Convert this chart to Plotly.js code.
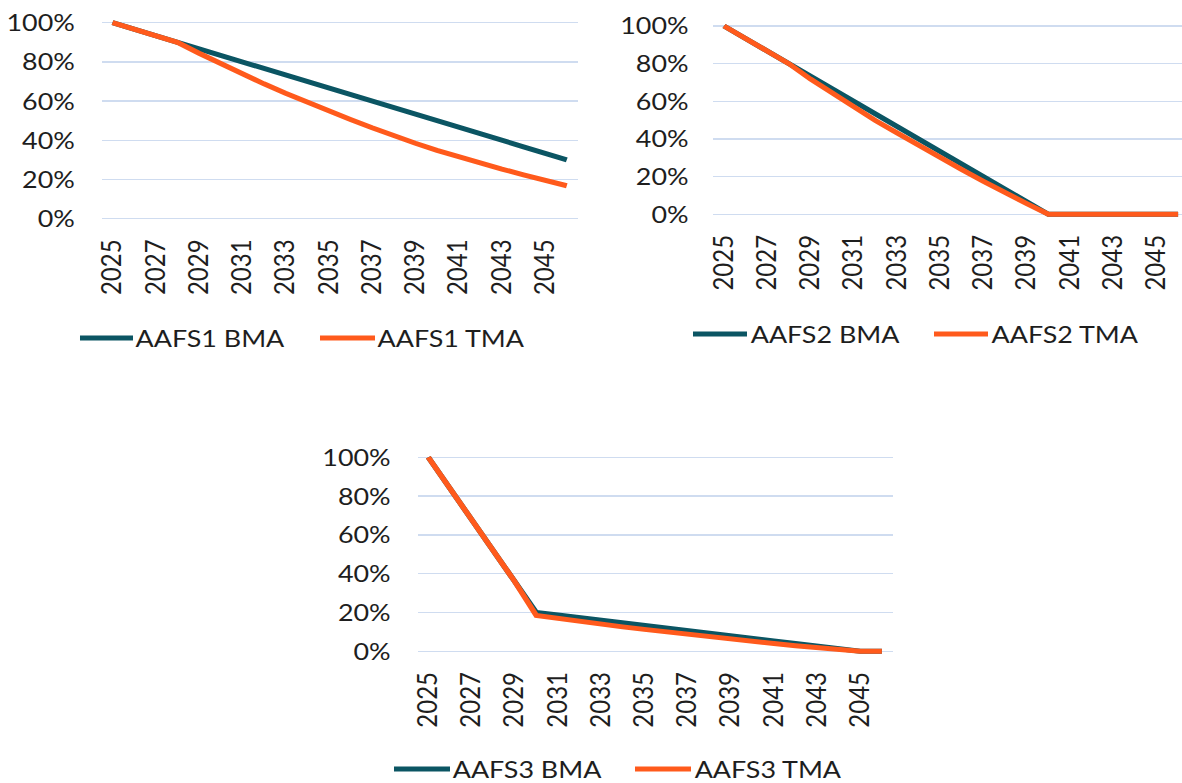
<!DOCTYPE html>
<html>
<head>
<meta charset="utf-8">
<script src="https://cdn.plot.ly/plotly-3.0.1.min.js"></script>
<style>
html,body{margin:0;padding:0;background:#fff;overflow:hidden;}
#wrap{width:1182px;height:783px;overflow:hidden;}
#chart{transform-origin:0 0;}
</style>
</head>
<body>
<div id="wrap"><div id="chart"></div></div>
<script>
// ---- data ----
const years = [2025,2026,2027,2028,2029,2030,2031,2032,2033,2034,2035,2036,2037,2038,2039,2040,2041,2042,2043,2044,2045,2046];
const xTickYears = [2025,2027,2029,2031,2033,2035,2037,2039,2041,2043,2045];
const yTickVals = [0,20,40,60,80,100];
const yTickText = ["0%","20%","40%","60%","80%","100%"];

const aafs1Bma = [100,96.7,93.3,90,86.7,83.3,80,76.7,73.3,70,66.7,63.3,60,56.7,53.3,50,46.7,43.3,40,36.7,33.3,30];
const aafs1Tma = [100,96.7,93.3,90,84.4,79.0,73.8,68.8,64.0,59.4,55.0,50.6,46.4,42.3,38.5,34.9,31.5,28.3,25.3,22.4,19.6,16.8];

const aafs2Bma = [100,93.3,86.7,80,73.3,66.7,60,53.3,46.7,40,33.3,26.7,20,13.3,6.7,0,0,0,0,0,0,0];
const aafs2Tma = [100,93.3,86.7,80,71.8,64.2,57,49.8,43.2,36.5,29.8,23.7,17.5,11.3,5.7,0,0,0,0,0,0,0];

const aafs3Bma = [100,84,68,52,36,20,18.7,17.3,16,14.7,13.3,12,10.7,9.3,8,6.7,5.3,4,2.7,1.3,0,0];
const aafs3Tma = [100,84,68,52,36,18.5,16.9,15.4,14.0,12.6,11.3,10.0,8.7,7.5,6.3,5.1,4.0,2.9,1.9,0.9,0,0];

const seriesNames = ["AAFS1 BMA","AAFS1 TMA","AAFS2 BMA","AAFS2 TMA","AAFS3 BMA","AAFS3 TMA"];

// ---- style ----
const OUT_W = 1182, H = 783;
const SX = 1.12;                       // reference is horizontally stretched
const W = Math.round(OUT_W / SX);      // inner drawing width
const TEAL = "#0b5563", ORANGE = "#ff5a1c";
const FONT = "Lato, 'Open Sans', sans-serif";
const FS = 24;
const TXT = "#1e1e1e";
const GRID = "#cfdcf0";

// positions are given in output pixels; fractions are scale-invariant
function px2fx(px){ return px / OUT_W; }
function px2fy(px){ return 1 - px / H; }

function trace(y, name, color, xa, ya){
  return {x: years, y: y, name: name, type: "scatter", mode: "lines",
    line: {color: color, width: 5}, xaxis: xa, yaxis: ya, showlegend: false, hoverinfo: "skip"};
}

const data = [
  trace(aafs1Bma, seriesNames[0], TEAL, "x", "y"),
  trace(aafs1Tma, seriesNames[1], ORANGE, "x", "y"),
  trace(aafs2Bma, seriesNames[2], TEAL, "x2", "y2"),
  trace(aafs2Tma, seriesNames[3], ORANGE, "x2", "y2"),
  trace(aafs3Bma, seriesNames[4], TEAL, "x3", "y3"),
  trace(aafs3Tma, seriesNames[5], ORANGE, "x3", "y3")
];

function xaxis(l, r, range, anchor){
  return {domain: [px2fx(l), px2fx(r)], range: range, anchor: anchor,
    tickmode: "array", tickvals: xTickYears, ticktext: xTickYears.map(String),
    tickangle: -90, showgrid: false, zeroline: false, showline: false, ticks: "",
    ticklabelstandoff: 12,
    tickfont: {family: FONT, size: FS, color: TXT}, fixedrange: true};
}
function yaxis(top, bottom, anchor, standoff){
  return {domain: [px2fy(bottom), px2fy(top)], range: [-1.5, 101.5], anchor: anchor,
    tickmode: "array", tickvals: yTickVals, ticktext: yTickText,
    showgrid: true, gridcolor: GRID, gridwidth: 1.4, zeroline: false, showline: false, ticks: "",
    ticklabelstandoff: standoff,
    tickfont: {family: FONT, size: FS, color: TXT}, fixedrange: true};
}

function yBox(p100, p0){ const s = (p0 - p100) / 100; return [p100 - 1.5*s, p0 + 1.5*s]; }
const b1 = yBox(22.7, 218.7), b2 = yBox(26, 214.3), b3 = yBox(457.3, 651.3);

const layout = {
  width: W, height: H, autosize: false,
  margin: {l: 0, r: 0, t: 0, b: 0, pad: 0},
  paper_bgcolor: "#fff", plot_bgcolor: "rgba(0,0,0,0)",
  font: {family: FONT, size: FS, color: TXT},
  xaxis: xaxis(101.7, 577.6, [2024.5, 2046.5], "y"),
  yaxis: yaxis(b1[0], b1[1], "x", 23),
  xaxis2: xaxis(713.2, 1182, [2024.5, 2046.18], "y2"),
  yaxis2: yaxis(b2[0], b2[1], "x2", 21),
  xaxis3: xaxis(417.5, 892.7, [2024.5, 2046.5], "y3"),
  yaxis3: yaxis(b3[0], b3[1], "x3", 23),
  shapes: [], annotations: []
};

// custom legends (line swatch + text), one per panel
const legendItems = [
  {x0: 80, x1: 133, y: 338, name: seriesNames[0], color: TEAL},
  {x0: 320, x1: 375, y: 338, name: seriesNames[1], color: ORANGE},
  {x0: 693, x1: 747, y: 334, name: seriesNames[2], color: TEAL},
  {x0: 934, x1: 988, y: 334, name: seriesNames[3], color: ORANGE},
  {x0: 394, x1: 450, y: 769, name: seriesNames[4], color: TEAL},
  {x0: 635, x1: 691, y: 769, name: seriesNames[5], color: ORANGE}
];
legendItems.forEach(it => {
  layout.shapes.push({type: "line", xref: "paper", yref: "paper",
    x0: px2fx(it.x0), x1: px2fx(it.x1), y0: px2fy(it.y), y1: px2fy(it.y),
    line: {color: it.color, width: 5}});
  layout.annotations.push({xref: "paper", yref: "paper", x: px2fx(it.x1 + 2), y: px2fy(it.y - 1),
    xanchor: "left", yanchor: "middle", showarrow: false, text: it.name, borderpad: 0,
    font: {family: FONT, size: FS, color: TXT}});
});

const el = document.getElementById("chart");
el.style.width = W + "px";
el.style.height = H + "px";
el.style.transform = "scaleX(" + (OUT_W / W) + ")";
Plotly.newPlot(el, data, layout, {staticPlot: true, displayModeBar: false});
</script>
</body>
</html>
